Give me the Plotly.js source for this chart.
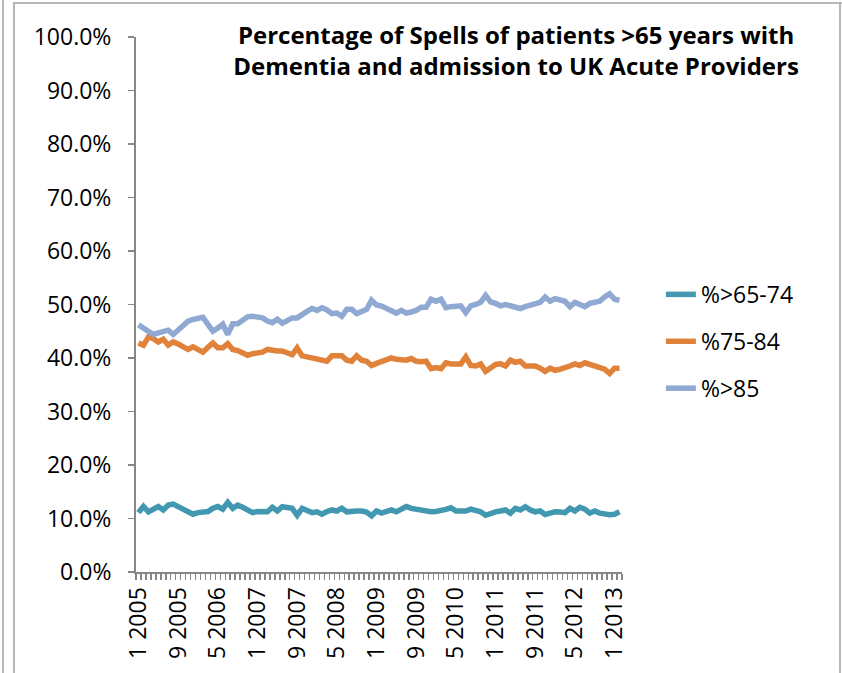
<!DOCTYPE html>
<html>
<head>
<meta charset="utf-8">
<script src="https://cdn.plot.ly/plotly-3.0.1.min.js"></script>
<style>
html,body{margin:0;padding:0;background:#fff;}
#wrap{position:relative;width:842px;height:673px;overflow:hidden;}
#chart{position:absolute;left:0;top:0;width:842px;height:673px;}
.fl{position:absolute;background:#b7b7b7;}
</style>
</head>
<body>
<div id="wrap">
<div id="chart"></div>
<div class="fl" style="left:2px;top:0;width:2px;height:673px;"></div>
<div class="fl" style="left:13px;top:2px;width:2px;height:673px;"></div>
<div class="fl" style="left:13px;top:2px;width:829px;height:2px;"></div>
<div class="fl" style="left:839px;top:2px;width:2px;height:673px;"></div>
</div>
<script>
// Month labels: "month year", Jan 2005 .. Feb 2013 (98 months)
const startYear = 2005;
const nMonths = 98;
const months = [];
for (let i = 0; i < nMonths; i++) {
  months.push(((i % 12) + 1) + " " + (startYear + Math.floor(i / 12)));
}

const seriesNames = ["%>65-74", "%75-84", "%>85"];
const seriesColors = ["#4198B0", "#E0823A", "#8FA9D3"];

// values in percent
const age65to74 = [
 11.1,12.25,11.25,11.7,12.25,11.6,12.5,12.7,12.2,11.8,
 11.4,10.8,11.1,11.2,11.3,11.9,12.25,11.75,13.0,11.9,
 12.5,12.1,11.7,11.1,11.3,11.4,11.25,12.1,11.4,12.2,
 12.1,11.9,10.6,11.9,11.5,11.1,11.25,10.8,11.3,11.6,
 11.4,11.9,11.25,11.4,11.4,11.4,11.2,10.5,11.4,11.0,
 11.3,11.6,11.25,11.8,12.25,11.9,11.7,11.6,11.4,11.25,
 11.3,11.4,11.7,12.0,11.4,11.4,11.4,11.75,11.5,11.25,
 10.6,11.0,11.25,11.4,11.6,11.0,11.9,11.6,12.2,11.6,
 11.25,11.4,10.75,11.0,11.25,11.2,11.1,11.9,11.4,12.1,
 11.75,11.0,11.4,11.0,10.75,10.7,10.8,11.25
];
const age75to84 = [
 42.8,42.4,43.9,43.6,43.0,43.5,42.4,43.0,42.6,42.1,
 41.6,42.1,41.6,41.1,42.0,42.8,41.9,41.9,42.7,41.6,
 41.4,41.0,40.5,40.8,41.0,41.1,41.6,41.4,41.3,41.3,
 41.0,40.6,41.9,40.4,40.2,40.0,39.9,39.6,39.4,40.4,
 40.5,40.4,39.6,39.4,40.4,39.6,39.4,38.6,39.0,39.4,
 39.7,40.0,39.75,39.7,39.6,39.9,39.4,39.3,39.4,38.0,
 38.2,38.0,39.1,38.9,38.9,38.9,40.2,38.6,38.5,38.9,
 37.5,38.3,38.8,38.9,38.5,39.6,39.2,39.4,38.5,38.5,
 38.5,38.1,37.5,38.1,37.7,37.9,38.1,38.5,38.9,38.6,
 39.1,38.8,38.6,38.2,37.9,37.1,38.1,38.1
];
const age85plus = [
 46.2,45.6,45.0,44.4,44.7,44.9,45.2,44.4,45.3,46.1,
 46.9,47.2,47.4,47.6,46.3,45.0,45.6,46.3,44.4,46.4,
 46.4,47.0,47.7,47.8,47.6,47.5,46.9,46.6,47.25,46.5,
 47.0,47.5,47.5,48.2,48.7,49.25,48.9,49.4,49.0,48.3,
 48.4,47.8,49.1,49.1,48.3,48.7,49.1,50.8,49.9,49.7,
 49.3,48.8,48.4,48.9,48.4,48.6,48.9,49.5,49.5,51.0,
 50.6,51.0,49.4,49.6,49.7,49.75,48.5,49.75,50.0,50.4,
 51.7,50.5,50.2,49.75,50.0,49.7,49.4,49.25,49.6,49.9,
 50.2,50.4,51.4,50.6,51.1,50.9,50.6,49.6,50.4,50.0,
 49.6,50.2,50.4,50.6,51.4,52.0,51.0,50.8
];

const yTickVals = [0,10,20,30,40,50,60,70,80,90,100];
const labelStep = 8;

const xIdx = months.map((m, i) => i);
const tickIdx = xIdx.filter(i => i % labelStep === 0);

const allSeries = [age65to74, age75to84, age85plus];
const traces = allSeries.map((vals, k) => ({
  type: "scatter",
  mode: "lines",
  x: xIdx,
  y: vals.map(v => v / 100),
  text: months,
  name: seriesNames[k],
  legendgroup: "g" + k,
  line: {color: seriesColors[k], width: 5.5, shape: "linear"},
  hoverinfo: "text+y+name"
}));

const font = "Open Sans, Liberation Sans, Arial, sans-serif";
const layout = {
  width: 842, height: 673,
  margin: {l: 136, r: 220, t: 37, b: 101, pad: 0},
  paper_bgcolor: "rgba(0,0,0,0)",
  plot_bgcolor: "#fff",
  font: {family: font, color: "#000", size: 19},
  showlegend: true,
  legend: {
    x: 1.08, xanchor: "left", y: 0.559, yanchor: "top",
    font: {family: font, size: 23, color: "#000"},
    tracegroupgap: 14,
    bgcolor: "rgba(0,0,0,0)"
  },
  title: {
    text: "<b>Percentage of Spells of patients >65 years with<br>Dementia and admission to UK Acute Providers</b>",
    font: {family: font, size: 24, color: "#000"},
    xref: "paper", x: 0.782, xanchor: "center",
    yref: "container", y: 0.935, yanchor: "middle"
  },
  xaxis: {
    type: "linear",
    range: [-0.5, nMonths - 0.5],
    tickmode: "array",
    tickvals: tickIdx,
    ticktext: tickIdx.map(i => months[i]),
    tickangle: -90,
    ticks: "",
    ticklen: 0,
    ticklabelstandoff: 4,
    showgrid: false,
    zeroline: false,
    showline: true,
    linecolor: "#868686",
    linewidth: 2,
    tickfont: {family: font, size: 23, color: "#000"},
    minor: {tickmode: "linear", tick0: -0.5, dtick: 1, ticks: "outside", ticklen: 6, tickwidth: 1.5, tickcolor: "#868686", showgrid: false},
    automargin: false
  },
  yaxis: {
    range: [0, 1],
    tickmode: "array",
    tickvals: yTickVals.map(v => v / 100),
    tickformat: ".1%",
    ticks: "outside",
    ticklen: 6,
    tickwidth: 1.5,
    tickcolor: "#868686",
    ticklabelstandoff: 12,
    showgrid: false,
    zeroline: false,
    showline: true,
    linecolor: "#868686",
    linewidth: 2,
    tickfont: {family: font, size: 23, color: "#000"},
    automargin: false
  }
};

Plotly.newPlot("chart", traces, layout, {displayModeBar: false, staticPlot: true});
</script>
</body>
</html>
